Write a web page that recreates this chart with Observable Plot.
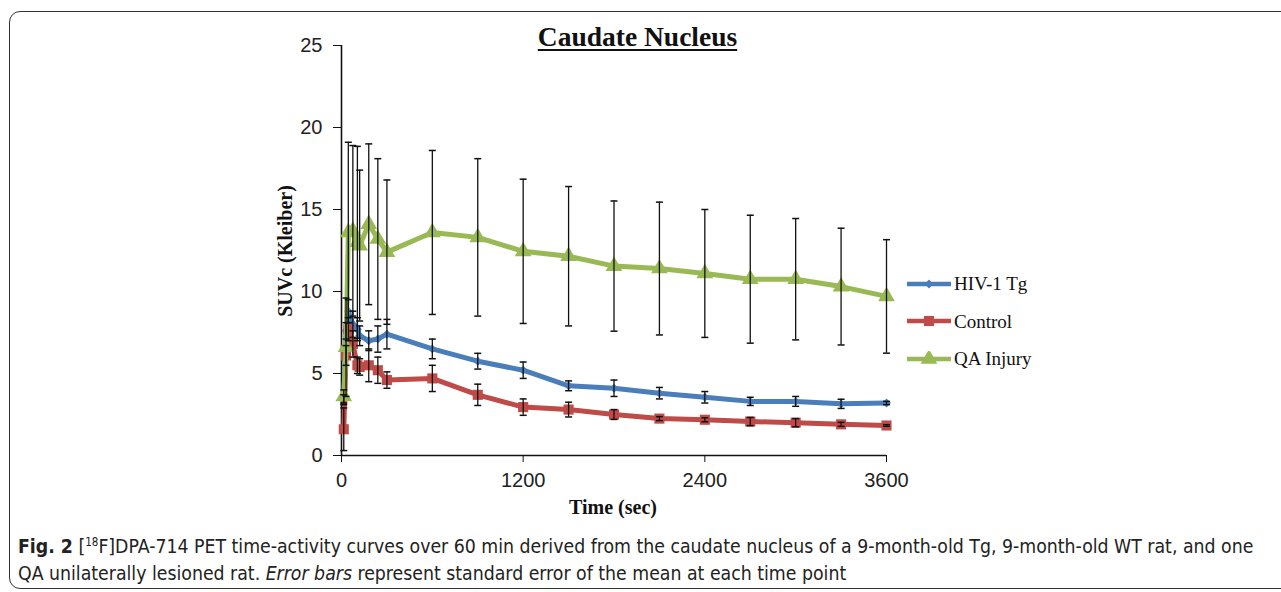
<!DOCTYPE html>
<html><head><meta charset="utf-8">
<script src="https://cdn.jsdelivr.net/npm/d3@7"></script>
<script src="https://cdn.jsdelivr.net/npm/@observablehq/plot@0.6"></script>
<style>
html,body{margin:0;padding:0;background:#fff}
body{width:1281px;height:592px;overflow:hidden;position:relative;font-family:"Liberation Serif","Times New Roman",serif;color:#111}
#frame{position:absolute;left:9px;top:11px;width:1300px;height:578px;border:1.4px solid #333;border-radius:11px;box-sizing:border-box}
#chart{position:absolute;left:0;top:0}
#title{position:absolute;left:0;width:1275px;top:21px;text-align:center;font-weight:bold;font-size:27.5px;text-decoration:underline;text-underline-offset:3px;text-decoration-thickness:1.6px}
#ylab{position:absolute;left:285px;top:251px;transform:translate(-50%,-50%) rotate(-90deg);font-weight:bold;font-size:20px;white-space:nowrap}
#xlab{position:absolute;left:613px;top:496px;transform:translateX(-50%);font-weight:bold;font-size:20px;white-space:nowrap}
#legend{position:absolute;left:906px;top:265px;font-size:19px}
#legend .row{display:flex;align-items:center;height:37.5px;line-height:1}
#legend svg{display:block;margin-right:2px}
#caption{position:absolute;left:18px;top:533px;font-family:"DejaVu Sans Condensed","Open Sans",sans-serif;font-stretch:condensed;font-size:19.3px;line-height:27px;color:#222;width:1260px;white-space:nowrap}
#caption sup{font-size:11.5px;vertical-align:7px;line-height:0}
</style>
</head><body>
<div id="frame"></div>
<div id="chart"></div>
<div id="title">Caudate Nucleus</div>
<div id="ylab">SUVc (Kleiber)</div>
<div id="xlab">Time (sec)</div>
<div id="legend"></div>
<div id="caption"><b>Fig. 2</b> [<sup>18</sup>F]DPA-714 PET time-activity curves over 60 min derived from the caudate nucleus of a 9-month-old Tg, 9-month-old WT rat, and one<br>QA unilaterally lesioned rat. <i>Error bars</i> represent standard error of the mean at each time point</div>
<script>
// ---- data ----
const times   = [15,30,45,75,105,120,180,240,300,600,900,1200,1500,1800,2100,2400,2700,3000,3300,3600];
const hivMean = [3.4,7.6,8.8,8.0,7.7,7.3,7.0,7.1,7.4,6.5,5.75,5.2,4.25,4.1,3.8,3.55,3.3,3.3,3.15,3.2];
const hivSE   = [0.3,0.5,0.7,0.8,0.7,0.6,0.6,0.8,0.9,0.6,0.48,0.5,0.3,0.5,0.35,0.35,0.25,0.3,0.28,0.1];
const ctlMean = [1.6,6.1,7.7,6.8,5.5,5.4,5.5,5.2,4.6,4.7,3.7,2.95,2.8,2.5,2.25,2.18,2.07,2.0,1.9,1.83];
const ctlSE   = [1.3,0.6,0.7,0.8,0.5,0.5,1.0,0.8,0.5,0.8,0.65,0.5,0.45,0.3,0.12,0.12,0.25,0.25,0.12,0.05];
const qaMean  = [3.6,6.6,13.6,13.7,13.0,12.8,14.1,13.2,12.4,13.6,13.3,12.45,12.15,11.55,11.4,11.1,10.75,10.75,10.3,9.7];
const qaSE    = [0.4,3.0,5.5,5.2,5.85,4.6,4.9,4.9,4.4,5.0,4.8,4.4,4.25,3.97,4.05,3.9,3.9,3.7,3.56,3.46];
const seriesNames = ["HIV-1 Tg","Control","QA Injury"];
const xTicks = [0,1200,2400,3600];
const yTicks = [0,5,10,15,20,25];

// ---- styles ----
const colors  = ["#4A7EBB","#BE4B48","#98B954"];
const symbols = ["diamond2","square","triangle"];
const radii   = [4,5.7,6.2];

const means = [hivMean, ctlMean, qaMean];
const ses   = [hivSE, ctlSE, qaSE];
const rows = seriesNames.flatMap((s,i)=>times.map((t,j)=>({series:s,t,v:means[i][j],se:ses[i][j]})));

const capSym = {draw(ctx){ctx.moveTo(-3.5,0);ctx.lineTo(3.5,0);}};

const marks = [
  Plot.axisX({ticks:xTicks, tickSize:7, tickPadding:10, label:null, tickFormat:d=>String(d), stroke:"#111"}),
  Plot.axisY({ticks:yTicks, tickSize:8, tickPadding:11, label:null, stroke:"#111"}),
  Plot.ruleX([0],{stroke:"#111",strokeWidth:1.6}),
  Plot.ruleY([0],{stroke:"#111",strokeWidth:1.6}),
];
seriesNames.forEach((s,i)=>{
  const d = rows.filter(r=>r.series===s);
  marks.push(Plot.line(d,{x:"t",y:"v",stroke:colors[i],strokeWidth:5,strokeLinejoin:"round"}));
  marks.push(Plot.dot(d,{x:"t",y:"v",symbol:symbols[i],fill:colors[i],r:radii[i]}));
});
marks.push(Plot.ruleX(rows,{x:"t",y1:d=>d.v-d.se,y2:d=>d.v+d.se,stroke:"#111",strokeWidth:1.3}));
marks.push(Plot.dot(rows,{x:"t",y:d=>d.v+d.se,symbol:capSym,stroke:"#111",strokeWidth:1.5,fill:"none"}));
marks.push(Plot.dot(rows,{x:"t",y:d=>d.v-d.se,symbol:capSym,stroke:"#111",strokeWidth:1.5,fill:"none"}));

const chart = Plot.plot({
  width:1281, height:530,
  marginLeft:341, marginRight:395, marginTop:45, marginBottom:75,
  x:{domain:[0,3600]},
  y:{domain:[0,25]},
  style:{fontFamily:"'Liberation Sans',Arial,sans-serif",fontSize:"20px",color:"#222",background:"transparent",overflow:"visible"},
  marks
});
document.getElementById("chart").appendChild(chart);

// legend
const lg = document.getElementById("legend");
seriesNames.forEach((s,i)=>{
  const row = document.createElement("div"); row.className="row";
  const sv = d3.create("svg").attr("width",46).attr("height",16);
  sv.append("line").attr("x1",1).attr("x2",45).attr("y1",8).attr("y2",8).attr("stroke",colors[i]).attr("stroke-width",4.5);
  sv.append("path").attr("transform","translate(23,8)")
    .attr("d",d3.symbol(i===0?d3.symbolDiamond2:i===1?d3.symbolSquare:d3.symbolTriangle, radii[i]*radii[i]*Math.PI)())
    .attr("fill",colors[i]);
  row.appendChild(sv.node());
  const sp=document.createElement("span"); sp.textContent=s; row.appendChild(sp);
  lg.appendChild(row);
});
</script>
</body></html>
